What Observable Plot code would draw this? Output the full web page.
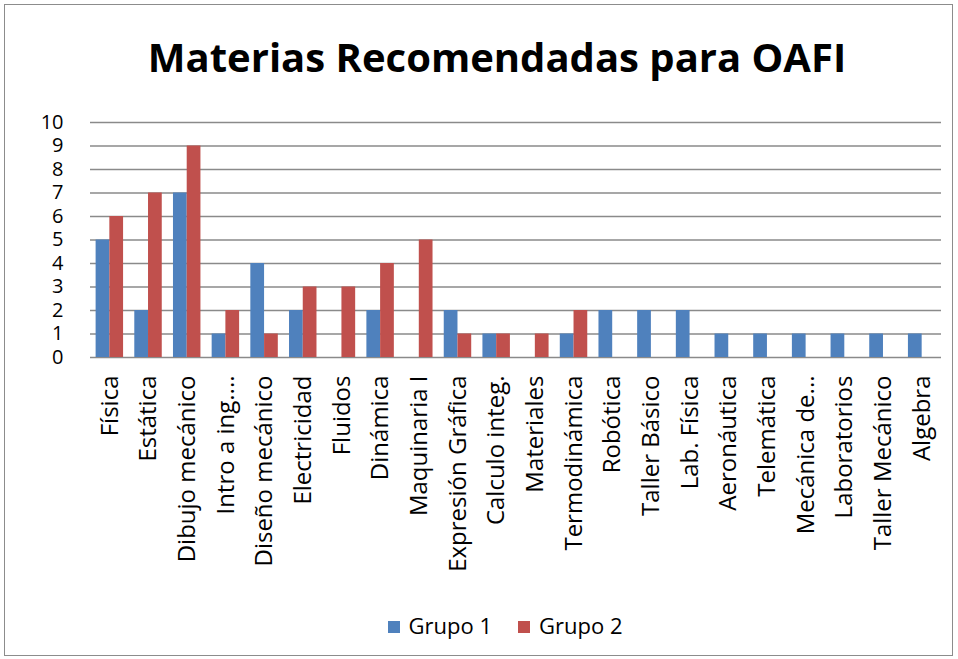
<!DOCTYPE html>
<html>
<head>
<meta charset="utf-8">
<script src="https://cdn.jsdelivr.net/npm/d3@7"></script>
<script src="https://cdn.jsdelivr.net/npm/@observablehq/plot@0.6"></script>
<style>
  html, body { margin: 0; padding: 0; background: #fff; }
  #wrap { position: relative; width: 958px; height: 659px; overflow: hidden; font-family: "Open Sans", sans-serif; }
  #frame { position: absolute; left: 4px; top: 4px; width: 949px; height: 652px; border: 1px solid #8c8c8c; box-sizing: border-box; }
  #title { position: absolute; left: 18px; width: 958px; top: 33px; line-height: 1.2; text-align: center; font-weight: bold; font-size: 40px; color: #000; }
  #chart { position: absolute; left: 0; top: 100px; }
  #legend { position: absolute; left: 26px; width: 958px; top: 610px; line-height: 30px; text-align: center; font-size: 22px; color: #000; }
  .sw { display: inline-block; width: 12px; height: 12px; margin-right: 9px; vertical-align: 1px; }
  .item { display: inline-block; margin: 0 13px; }
</style>
</head>
<body>
<div id="wrap">
  <div id="frame"></div>
  <div id="title">Materias Recomendadas para OAFI</div>
  <div id="chart"></div>
  <div id="legend"></div>
</div>
<script>
const categories = ["Física", "Estática", "Dibujo mecánico", "Intro a ing....", "Diseño mecánico", "Electricidad", "Fluidos", "Dinámica", "Maquinaria I", "Expresión Gráfica", "Calculo integ.", "Materiales", "Termodinámica", "Robótica", "Taller Básico", "Lab. Física", "Aeronáutica", "Telemática", "Mecánica de...", "Laboratorios", "Taller Mecánico", "Algebra"];
const grupo1 = [5, 2, 7, 1, 4, 2, 0, 2, 0, 2, 1, 0, 1, 2, 2, 2, 1, 1, 1, 1, 1, 1];
const grupo2 = [6, 7, 9, 2, 1, 3, 3, 4, 5, 1, 1, 1, 2, 0, 0, 0, 0, 0, 0, 0, 0, 0];
const seriesNames = ["Grupo 1", "Grupo 2"];
const seriesColors = ["#4F81BD", "#C0504D"];
const yTicks = [0, 1, 2, 3, 4, 5, 6, 7, 8, 9, 10];

const rows1 = categories.map((c, i) => ({cat: c, v: grupo1[i]}));
const rows2 = categories.map((c, i) => ({cat: c, v: grupo2[i]}));

const W = 958, ml = 90, mr = 17;
const pInner = 0.29, pOuter = 0.145;
const n = categories.length;
const step = (W - ml - mr) / (n - pInner + 2 * pOuter);
const bw = step * (1 - pInner);

const plot = Plot.plot({
  width: W,
  height: 500,
  marginLeft: ml,
  marginRight: mr,
  marginTop: 22,
  marginBottom: 243,
  style: {fontFamily: "Open Sans, sans-serif", fontSize: "20px", color: "#000", background: "transparent"},
  x: {domain: categories, paddingInner: pInner, paddingOuter: pOuter, round: false, label: null},
  y: {domain: [0, 10], label: null},
  marks: [
    Plot.ruleY(yTicks, {stroke: "#8a8a8a", strokeWidth: 1.6}),
    Plot.barY(rows1, {x: "cat", y: "v", fill: seriesColors[0], insetRight: bw / 2}),
    Plot.barY(rows2, {x: "cat", y: "v", fill: seriesColors[1], insetLeft: bw / 2}),
    Plot.axisY({ticks: yTicks, tickSize: 0, tickPadding: 27, fontSize: 20, label: null}),
    Plot.axisX({tickSize: 0, tickPadding: 18, tickRotate: -90, fontSize: 24, label: null})
  ]
});
document.getElementById("chart").appendChild(plot);

const leg = document.getElementById("legend");
seriesNames.forEach((s, i) => {
  const it = document.createElement("span");
  it.className = "item";
  it.innerHTML = `<span class="sw" style="background:${seriesColors[i]}"></span>${s}`;
  leg.appendChild(it);
});
</script>
</body>
</html>
